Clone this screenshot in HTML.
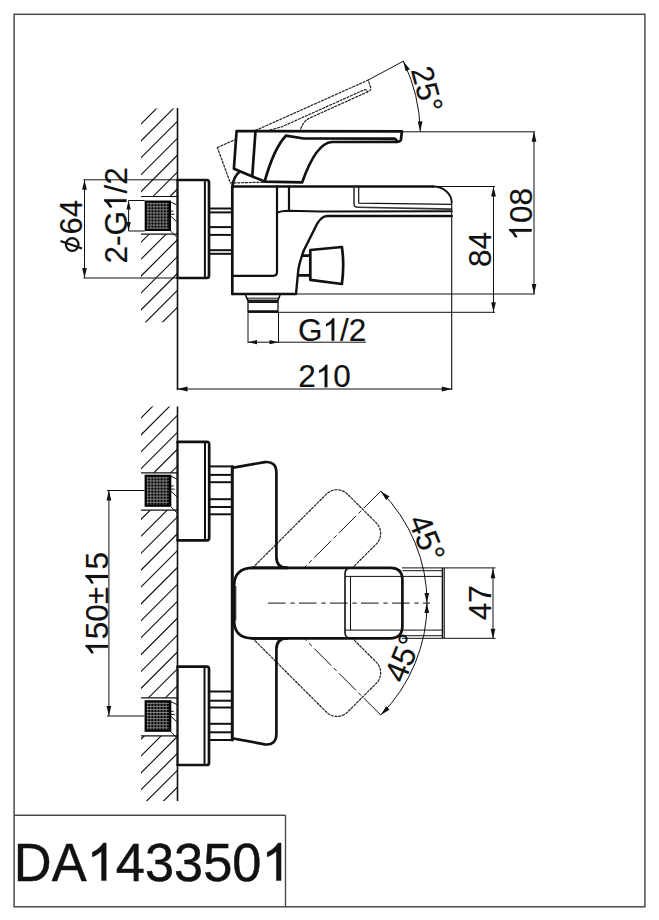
<!DOCTYPE html>
<html><head><meta charset="utf-8"><style>
html,body{margin:0;padding:0;background:#fff;}
svg{display:block;}
text{font-family:"Liberation Sans",sans-serif;}
</style></head><body>
<svg width="659" height="920" viewBox="0 0 659 920">
<rect width="659" height="920" fill="#fff"/>
<rect x="14.1" y="14.3" width="630.8" height="892.5" fill="none" stroke="#4a4a4a" stroke-width="1.5"/>
<line x1="14.00" y1="815.30" x2="285.60" y2="815.30" stroke="#4a4a4a" stroke-width="1.4" stroke-linecap="butt"/>
<line x1="285.50" y1="815.30" x2="285.50" y2="907.00" stroke="#4a4a4a" stroke-width="1.4" stroke-linecap="butt"/>
<g transform="translate(13.87 880.59) rotate(0) scale(1 1.02)"><text x="0" y="0" font-size="52.4" fill="#111" stroke="#111" stroke-width="0.45">DA 43350 </text><path transform="translate(72.792 0) scale(0.02559 -0.02508)" d="M763,0 L583,0 L583,1147 Q518,1085 413,1023 T223,930 L223,1104 Q374,1175 487,1276 T647,1466 L763,1466 Z" fill="#111" stroke="#111" stroke-width="17.59"/><path transform="translate(247.646 0) scale(0.02559 -0.02508)" d="M763,0 L583,0 L583,1147 Q518,1085 413,1023 T223,930 L223,1104 Q374,1175 487,1276 T647,1466 L763,1466 Z" fill="#111" stroke="#111" stroke-width="17.59"/></g>
<clipPath id="h1"><rect x="141" y="108.5" width="36.5" height="213.8"/></clipPath>
<g clip-path="url(#h1)"><path d="M-62.30,327.30 L161.50,103.50 M-45.40,327.30 L178.40,103.50 M-28.50,327.30 L195.30,103.50 M-11.60,327.30 L212.20,103.50 M5.30,327.30 L229.10,103.50 M22.20,327.30 L246.00,103.50 M39.10,327.30 L262.90,103.50 M56.00,327.30 L279.80,103.50 M72.90,327.30 L296.70,103.50 M89.80,327.30 L313.60,103.50 M106.70,327.30 L330.50,103.50 M123.60,327.30 L347.40,103.50 M140.50,327.30 L364.30,103.50 M157.40,327.30 L381.20,103.50 M174.30,327.30 L398.10,103.50" stroke="#111" stroke-width="1.15" fill="none"/>
<rect x="140" y="196.4" width="38.5" height="38.0" fill="#fff"/>
</g>
<line x1="177.50" y1="108.00" x2="177.50" y2="390.00" stroke="#111" stroke-width="1.6" stroke-linecap="butt"/>
<line x1="141.00" y1="196.50" x2="177.50" y2="196.50" stroke="#111" stroke-width="1.2" stroke-linecap="butt"/>
<line x1="141.00" y1="234.20" x2="177.50" y2="234.20" stroke="#111" stroke-width="1.2" stroke-linecap="butt"/>
<rect x="144.7" y="200.5" width="26.30000000000001" height="30.5" fill="#000"/>
<path d="M146.7,203.7 H168.5 M146.7,206.8 H168.5 M146.7,209.8 H168.5 M146.7,212.9 H168.5 M146.7,215.9 H168.5 M146.7,219.0 H168.5 M146.7,222.0 H168.5 M146.7,225.1 H168.5 M146.7,228.1 H168.5 M147.9,202.5 V229.0 M150.9,202.5 V229.0 M154.0,202.5 V229.0 M157.1,202.5 V229.0 M160.1,202.5 V229.0 M163.2,202.5 V229.0 M166.2,202.5 V229.0" stroke="#8a8a8a" stroke-width="0.9" fill="none"/>
<path d="M171,202.1 L176.2,204.7 M171,216.36 L176.2,221.24 M171,214.225 H174 M171,211.175 H173 M171,231.4 L176.2,236.6" stroke="#111" stroke-width="1.0" fill="none" stroke-linejoin="round" stroke-linecap="round" />
<path d="M177.5,180 H206.8 Q209,180 209,182.5 V275.5 Q209,278 206.8,278 H177.5" stroke="#111" stroke-width="2.7" fill="none" stroke-linejoin="round" stroke-linecap="round" />
<line x1="204.90" y1="180.00" x2="204.90" y2="278.00" stroke="#111" stroke-width="2.0" stroke-linecap="butt"/>
<line x1="177.50" y1="180.00" x2="177.50" y2="278.00" stroke="#111" stroke-width="2.0" stroke-linecap="butt"/>
<line x1="209.00" y1="208.50" x2="232.30" y2="208.50" stroke="#111" stroke-width="2.0" stroke-linecap="butt"/>
<line x1="209.00" y1="212.40" x2="232.30" y2="212.40" stroke="#111" stroke-width="2.0" stroke-linecap="butt"/>
<line x1="209.00" y1="227.10" x2="232.30" y2="227.10" stroke="#111" stroke-width="2.0" stroke-linecap="butt"/>
<line x1="209.00" y1="234.90" x2="232.30" y2="234.90" stroke="#111" stroke-width="2.0" stroke-linecap="butt"/>
<line x1="209.00" y1="250.20" x2="232.30" y2="250.20" stroke="#111" stroke-width="2.0" stroke-linecap="butt"/>
<line x1="209.00" y1="253.80" x2="232.30" y2="253.80" stroke="#111" stroke-width="2.0" stroke-linecap="butt"/>
<path d="M232.3,294 V186.5 H433" stroke="#111" stroke-width="2.7" fill="none" stroke-linejoin="round" stroke-linecap="round" />
<path d="M433,186.5 A18.7,16 0 0 1 451.7,202.5" stroke="#111" stroke-width="1.9" fill="none" stroke-linejoin="round" stroke-linecap="round" />
<line x1="451.70" y1="202.50" x2="451.70" y2="390.00" stroke="#111" stroke-width="1.1" stroke-linecap="butt"/>
<path d="M232.3,294 H296 L298.3,270 Q299.5,262 304,250 L314,230 Q320,216 327,216 H451.7" stroke="#111" stroke-width="2.4" fill="none" stroke-linejoin="round" stroke-linecap="round" />
<path d="M277,186.5 V272 Q277,275.8 273,275.8 H232.3" stroke="#111" stroke-width="2.2" fill="none" stroke-linejoin="round" stroke-linecap="round" />
<path d="M289,186.5 V210.7" stroke="#111" stroke-width="2.2" fill="none" stroke-linejoin="round" stroke-linecap="round" />
<path d="M277,213 Q280,210.7 289,210.7 L320,211.4 L451.7,211.3" stroke="#111" stroke-width="2.0" fill="none" stroke-linejoin="round" stroke-linecap="round" />
<path d="M354,186.5 V204 Q354,207.3 358,207.3 L451.7,209.1" stroke="#333" stroke-width="1.6" fill="none" stroke-linejoin="round" stroke-linecap="round" />
<path d="M358.7,186.5 V203.2 L451.7,204.3" stroke="#111" stroke-width="1.2" fill="none" stroke-linejoin="round" stroke-linecap="round" />
<path d="M302.5,255.7 H310.3 M298.3,275.3 H310.3" stroke="#111" stroke-width="2.7" fill="none" stroke-linejoin="round" stroke-linecap="round" />
<path d="M310.3,250 L341.9,247 Q344.5,265 341.9,284 L310.3,279.8 Z" stroke="#111" stroke-width="2.7" fill="#fff" stroke-linejoin="round" stroke-linecap="round" />
<path d="M245,294 L248,300.7 H277.8 L280.4,294" stroke="#111" stroke-width="1.6" fill="none" stroke-linejoin="round" stroke-linecap="round" />
<line x1="246.50" y1="298.20" x2="279.00" y2="298.20" stroke="#111" stroke-width="1.0" stroke-linecap="butt"/>
<line x1="248.00" y1="311.60" x2="278.00" y2="311.60" stroke="#111" stroke-width="2.7" stroke-linecap="butt"/>
<line x1="248.00" y1="300.70" x2="278.00" y2="300.70" stroke="#111" stroke-width="2.2" stroke-linecap="butt"/>
<path d="M248,300.7 V311.6 M278,300.7 V311.6" stroke="#111" stroke-width="1.3" fill="none" stroke-linejoin="round" stroke-linecap="round" />
<line x1="248.00" y1="302.50" x2="278.00" y2="302.50" stroke="#111" stroke-width="1.0" stroke-linecap="butt"/>
<g transform="rotate(-24.24 265.5 184)">
<path d="M236.6,131 L401.9,131.4 L401,139.5 Q400.5,141.9 396.4,141.9 L332,142 Q316,143 302.2,182.3 L264.6,181.6 L233.9,168.7 Z" stroke="#222" stroke-width="1.2" fill="none" stroke-dasharray="2.1,1.7" stroke-linejoin="round" stroke-linecap="round" />
<path d="M264.6,181.6 Q274,148 285.9,135.7 L303.7,138.5 L394.6,138.7 Q397,139.5 396.4,141.9" stroke="#222" stroke-width="1.2" fill="none" stroke-dasharray="2.1,1.7" stroke-linejoin="round" stroke-linecap="round" />
</g>
<path d="M236.6,131 L401.9,131.4 L401,139.5 Q400.5,141.9 396.4,141.9 L332,142 Q316,143 302.2,182.3 L264.6,181.6 L233.9,168.7 Z" stroke="#111" stroke-width="2.7" fill="#fff" stroke-linejoin="round" stroke-linecap="round" />
<path d="M264.6,181.6 Q274,148 285.9,135.7 L303.7,138.5 L394.6,138.7 Q397,139.5 396.4,141.9" stroke="#111" stroke-width="2.7" fill="none" stroke-linejoin="round" stroke-linecap="round" />
<path d="M255.5,131 L252.3,175.5" stroke="#111" stroke-width="2.7" fill="none" stroke-linejoin="round" stroke-linecap="round" />
<path d="M232.3,187 Q233.5,176 240,171.5" stroke="#111" stroke-width="2.7" fill="none" stroke-linejoin="round" stroke-linecap="round" />
<line x1="401.90" y1="131.80" x2="535.00" y2="131.80" stroke="#111" stroke-width="1.0" stroke-linecap="butt"/>
<line x1="433.00" y1="186.50" x2="495.00" y2="186.50" stroke="#111" stroke-width="1.0" stroke-linecap="butt"/>
<line x1="296.00" y1="294.00" x2="535.00" y2="294.00" stroke="#111" stroke-width="1.0" stroke-linecap="butt"/>
<line x1="278.00" y1="312.30" x2="495.00" y2="312.30" stroke="#111" stroke-width="1.0" stroke-linecap="butt"/>
<line x1="367.90" y1="80.20" x2="403.33" y2="61.19" stroke="#111" stroke-width="1.0" stroke-linecap="butt"/>
<path d="M420.27,131.40 A166.4,166.4 0 0 0 403.33,61.19" stroke="#111" stroke-width="1.0" fill="none" stroke-linejoin="round" stroke-linecap="round" />
<path d="M420.27,131.40 L417.72,121.44 L422.47,121.36 Z" fill="#111"/>
<path d="M403.33,61.19 L409.86,69.13 L405.60,71.22 Z" fill="#111"/>
<g transform="translate(410.63 69.64) rotate(75) scale(1 1.02)"><text x="0" y="0" font-size="30.5" fill="#111" stroke="#111" stroke-width="0.15">25°</text></g>
<line x1="534.00" y1="131.80" x2="534.00" y2="294.00" stroke="#111" stroke-width="1.0" stroke-linecap="butt"/>
<path d="M534.00,131.80 L536.38,141.80 L531.62,141.80 Z" fill="#111"/>
<path d="M534.00,294.00 L531.62,284.00 L536.38,284.00 Z" fill="#111"/>
<g transform="translate(531.67 240.61) rotate(-90) scale(1 1.02)"><text x="0" y="0" font-size="31.5" fill="#111" stroke="#111" stroke-width="0.15"> 08</text><path transform="translate(0.000 0) scale(0.01538 -0.01508)" d="M763,0 L583,0 L583,1147 Q518,1085 413,1023 T223,930 L223,1104 Q374,1175 487,1276 T647,1466 L763,1466 Z" fill="#111" stroke="#111" stroke-width="9.75"/></g>
<line x1="493.50" y1="186.50" x2="493.50" y2="312.30" stroke="#111" stroke-width="1.0" stroke-linecap="butt"/>
<path d="M493.50,186.50 L495.88,196.50 L491.12,196.50 Z" fill="#111"/>
<path d="M493.50,312.30 L491.12,302.30 L495.88,302.30 Z" fill="#111"/>
<g transform="translate(491.41 266.99) rotate(-90) scale(1 1.02)"><text x="0" y="0" font-size="31.5" fill="#111" stroke="#111" stroke-width="0.15">84</text></g>
<line x1="248.00" y1="312.00" x2="248.00" y2="343.00" stroke="#111" stroke-width="1.0" stroke-linecap="butt"/>
<line x1="278.50" y1="312.00" x2="278.50" y2="343.00" stroke="#111" stroke-width="1.0" stroke-linecap="butt"/>
<line x1="248.00" y1="342.20" x2="366.00" y2="342.20" stroke="#111" stroke-width="1.0" stroke-linecap="butt"/>
<path d="M248.00,342.20 L257.00,340.04 L257.00,344.36 Z" fill="#111"/>
<path d="M278.50,342.20 L269.50,344.36 L269.50,340.04 Z" fill="#111"/>
<g transform="translate(298.10 340.78) rotate(0) scale(1 1.02)"><text x="0" y="0" font-size="31.5" fill="#111" stroke="#111" stroke-width="0.15">G /2</text><path transform="translate(24.502 0) scale(0.01538 -0.01508)" d="M763,0 L583,0 L583,1147 Q518,1085 413,1023 T223,930 L223,1104 Q374,1175 487,1276 T647,1466 L763,1466 Z" fill="#111" stroke="#111" stroke-width="9.75"/></g>
<line x1="177.50" y1="389.00" x2="452.00" y2="389.00" stroke="#111" stroke-width="1.0" stroke-linecap="butt"/>
<path d="M177.50,389.00 L187.50,386.62 L187.50,391.38 Z" fill="#111"/>
<path d="M451.80,389.00 L441.80,391.38 L441.80,386.62 Z" fill="#111"/>
<g transform="translate(298.14 387.32) rotate(0) scale(1 1.02)"><text x="0" y="0" font-size="31.5" fill="#111" stroke="#111" stroke-width="0.15">2 0</text><path transform="translate(17.519 0) scale(0.01538 -0.01508)" d="M763,0 L583,0 L583,1147 Q518,1085 413,1023 T223,930 L223,1104 Q374,1175 487,1276 T647,1466 L763,1466 Z" fill="#111" stroke="#111" stroke-width="9.75"/></g>
<line x1="83.50" y1="179.80" x2="177.50" y2="179.80" stroke="#111" stroke-width="1.0" stroke-linecap="butt"/>
<line x1="83.50" y1="278.00" x2="177.50" y2="278.00" stroke="#111" stroke-width="1.0" stroke-linecap="butt"/>
<line x1="84.50" y1="179.80" x2="84.50" y2="278.00" stroke="#111" stroke-width="1.0" stroke-linecap="butt"/>
<path d="M84.50,179.80 L86.88,189.80 L82.12,189.80 Z" fill="#111"/>
<path d="M84.50,278.00 L82.12,268.00 L86.88,268.00 Z" fill="#111"/>
<g transform="translate(82.33 234.42) rotate(-90) scale(1 1.02)"><text x="0" y="0" font-size="31" fill="#111" stroke="#111" stroke-width="0.15">64</text></g>
<circle cx="72.2" cy="244.5" r="6.3" fill="none" stroke="#111" stroke-width="2.2"/>
<line x1="60.50" y1="241.00" x2="82.00" y2="248.50" stroke="#111" stroke-width="2.2" stroke-linecap="butt"/>
<line x1="128.60" y1="200.50" x2="144.70" y2="200.50" stroke="#111" stroke-width="1.0" stroke-linecap="butt"/>
<line x1="128.60" y1="231.00" x2="144.70" y2="231.00" stroke="#111" stroke-width="1.0" stroke-linecap="butt"/>
<line x1="128.60" y1="200.50" x2="128.60" y2="231.00" stroke="#111" stroke-width="1.0" stroke-linecap="butt"/>
<path d="M128.60,200.50 L130.76,209.50 L126.44,209.50 Z" fill="#111"/>
<path d="M128.60,231.00 L126.44,222.00 L130.76,222.00 Z" fill="#111"/>
<g transform="translate(126.53 263.40) rotate(-90) scale(1 1.02)"><text x="0" y="0" font-size="31.5" fill="#111" stroke="#111" stroke-width="0.15">2-G /2</text><path transform="translate(52.510 0) scale(0.01538 -0.01508)" d="M763,0 L583,0 L583,1147 Q518,1085 413,1023 T223,930 L223,1104 Q374,1175 487,1276 T647,1466 L763,1466 Z" fill="#111" stroke="#111" stroke-width="9.75"/></g>
<clipPath id="h2"><rect x="141" y="406.5" width="36.5" height="394.5"/></clipPath>
<g clip-path="url(#h2)"><path d="M-247.00,806.00 L157.50,401.50 M-230.10,806.00 L174.40,401.50 M-213.20,806.00 L191.30,401.50 M-196.30,806.00 L208.20,401.50 M-179.40,806.00 L225.10,401.50 M-162.50,806.00 L242.00,401.50 M-145.60,806.00 L258.90,401.50 M-128.70,806.00 L275.80,401.50 M-111.80,806.00 L292.70,401.50 M-94.90,806.00 L309.60,401.50 M-78.00,806.00 L326.50,401.50 M-61.10,806.00 L343.40,401.50 M-44.20,806.00 L360.30,401.50 M-27.30,806.00 L377.20,401.50 M-10.40,806.00 L394.10,401.50 M6.50,806.00 L411.00,401.50 M23.40,806.00 L427.90,401.50 M40.30,806.00 L444.80,401.50 M57.20,806.00 L461.70,401.50 M74.10,806.00 L478.60,401.50 M91.00,806.00 L495.50,401.50 M107.90,806.00 L512.40,401.50 M124.80,806.00 L529.30,401.50 M141.70,806.00 L546.20,401.50 M158.60,806.00 L563.10,401.50 M175.50,806.00 L580.00,401.50" stroke="#111" stroke-width="1.15" fill="none"/>
<rect x="140" y="472.9" width="38.5" height="37.30000000000001" fill="#fff"/>
<rect x="140" y="697.8" width="38.5" height="38.10000000000002" fill="#fff"/>
</g>
<line x1="177.50" y1="406.50" x2="177.50" y2="801.00" stroke="#111" stroke-width="1.6" stroke-linecap="butt"/>
<line x1="141.00" y1="472.90" x2="177.50" y2="472.90" stroke="#111" stroke-width="1.2" stroke-linecap="butt"/>
<line x1="141.00" y1="510.20" x2="177.50" y2="510.20" stroke="#111" stroke-width="1.2" stroke-linecap="butt"/>
<line x1="141.00" y1="697.80" x2="177.50" y2="697.80" stroke="#111" stroke-width="1.2" stroke-linecap="butt"/>
<line x1="141.00" y1="735.90" x2="177.50" y2="735.90" stroke="#111" stroke-width="1.2" stroke-linecap="butt"/>
<rect x="144.6" y="474.7" width="26.700000000000017" height="32.10000000000002" fill="#000"/>
<path d="M146.6,477.9 H168.8 M146.6,480.9 H168.8 M146.6,484.0 H168.8 M146.6,487.1 H168.8 M146.6,490.1 H168.8 M146.6,493.2 H168.8 M146.6,496.2 H168.8 M146.6,499.3 H168.8 M146.6,502.3 H168.8 M147.8,476.7 V504.8 M150.8,476.7 V504.8 M153.9,476.7 V504.8 M157.0,476.7 V504.8 M160.0,476.7 V504.8 M163.1,476.7 V504.8 M166.1,476.7 V504.8" stroke="#8a8a8a" stroke-width="0.9" fill="none"/>
<path d="M171.3,476.3 L176.5,478.9 M171.3,491.392 L176.5,496.528 M171.3,489.145 H174.3 M171.3,485.935 H173.3 M171.3,507.2 L176.5,512.4" stroke="#111" stroke-width="1.0" fill="none" stroke-linejoin="round" stroke-linecap="round" />
<rect x="144.6" y="700.2" width="26.700000000000017" height="31.59999999999991" fill="#000"/>
<path d="M146.6,703.4 H168.8 M146.6,706.5 H168.8 M146.6,709.5 H168.8 M146.6,712.5 H168.8 M146.6,715.6 H168.8 M146.6,718.6 H168.8 M146.6,721.7 H168.8 M146.6,724.7 H168.8 M146.6,727.8 H168.8 M147.8,702.2 V729.8 M150.8,702.2 V729.8 M153.9,702.2 V729.8 M157.0,702.2 V729.8 M160.0,702.2 V729.8 M163.1,702.2 V729.8 M166.1,702.2 V729.8" stroke="#8a8a8a" stroke-width="0.9" fill="none"/>
<path d="M171.3,701.8000000000001 L176.5,704.4000000000001 M171.3,716.632 L176.5,721.688 M171.3,714.42 H174.3 M171.3,711.26 H173.3 M171.3,732.1999999999999 L176.5,737.4" stroke="#111" stroke-width="1.0" fill="none" stroke-linejoin="round" stroke-linecap="round" />
<path d="M177.5,441.9 H207 Q209.2,441.9 209.2,444.5 V537.7 Q209.2,540.3 207,540.3 H177.5" stroke="#111" stroke-width="2.7" fill="none" stroke-linejoin="round" stroke-linecap="round" />
<line x1="205.00" y1="441.90" x2="205.00" y2="540.30" stroke="#111" stroke-width="2.0" stroke-linecap="butt"/>
<line x1="177.50" y1="441.90" x2="177.50" y2="540.30" stroke="#111" stroke-width="2.0" stroke-linecap="butt"/>
<path d="M177.5,666.7 H207 Q209,666.7 209,669.3 V762.4 Q209,765 207,765 H177.5" stroke="#111" stroke-width="2.7" fill="none" stroke-linejoin="round" stroke-linecap="round" />
<line x1="204.50" y1="666.70" x2="204.50" y2="765.00" stroke="#111" stroke-width="2.0" stroke-linecap="butt"/>
<line x1="177.50" y1="666.70" x2="177.50" y2="765.00" stroke="#111" stroke-width="2.0" stroke-linecap="butt"/>
<line x1="209.20" y1="466.40" x2="232.20" y2="466.40" stroke="#111" stroke-width="2.0" stroke-linecap="butt"/>
<line x1="209.20" y1="474.90" x2="232.20" y2="474.90" stroke="#111" stroke-width="2.0" stroke-linecap="butt"/>
<line x1="209.20" y1="482.20" x2="232.20" y2="482.20" stroke="#111" stroke-width="2.0" stroke-linecap="butt"/>
<line x1="209.20" y1="499.20" x2="232.20" y2="499.20" stroke="#111" stroke-width="2.0" stroke-linecap="butt"/>
<line x1="209.20" y1="507.00" x2="232.20" y2="507.00" stroke="#111" stroke-width="2.0" stroke-linecap="butt"/>
<line x1="209.20" y1="514.30" x2="232.20" y2="514.30" stroke="#111" stroke-width="2.0" stroke-linecap="butt"/>
<line x1="209.00" y1="691.50" x2="232.20" y2="691.50" stroke="#111" stroke-width="2.0" stroke-linecap="butt"/>
<line x1="209.00" y1="700.70" x2="232.20" y2="700.70" stroke="#111" stroke-width="2.0" stroke-linecap="butt"/>
<line x1="209.00" y1="707.50" x2="232.20" y2="707.50" stroke="#111" stroke-width="2.0" stroke-linecap="butt"/>
<line x1="209.00" y1="723.80" x2="232.20" y2="723.80" stroke="#111" stroke-width="2.0" stroke-linecap="butt"/>
<line x1="209.00" y1="732.30" x2="232.20" y2="732.30" stroke="#111" stroke-width="2.0" stroke-linecap="butt"/>
<line x1="209.00" y1="740.00" x2="232.20" y2="740.00" stroke="#111" stroke-width="2.0" stroke-linecap="butt"/>
<path d="M252.60,567.90 L326.34,494.16 A15,15 0 0 1 347.56,494.16 L376.24,522.84 A15,15 0 0 1 376.24,544.06 L352.40,567.90" stroke="#222" stroke-width="1.2" fill="none" stroke-dasharray="2.1,1.7" stroke-linejoin="round" stroke-linecap="round" />
<path d="M252.60,638.30 L326.34,712.04 A15,15 0 0 0 347.56,712.04 L376.24,683.36 A15,15 0 0 0 376.24,662.14 L352.40,638.30" stroke="#222" stroke-width="1.2" fill="none" stroke-dasharray="2.1,1.7" stroke-linejoin="round" stroke-linecap="round" />
<path d="M232.3,466.4 V740" stroke="#111" stroke-width="3.0" fill="none" stroke-linejoin="round" stroke-linecap="round" />
<path d="M233.3,467.6 L264.9,462.1 Q276.4,461 276.4,473 V557 Q276.4,567.9 287,567.9" stroke="#111" stroke-width="2.7" fill="none" stroke-linejoin="round" stroke-linecap="round" />
<path d="M233.3,738.5 L264.9,744.4 Q276.4,745.5 276.4,733.5 V649.4 Q276.4,638.3 287,638.3" stroke="#111" stroke-width="2.7" fill="none" stroke-linejoin="round" stroke-linecap="round" />
<path d="M287,567.9 H253 Q234.1,567.9 234.1,586 V620.5 Q234.1,638.3 253,638.3 H287" stroke="#111" stroke-width="2.7" fill="none" stroke-linejoin="round" stroke-linecap="round" />
<line x1="235.80" y1="586.00" x2="235.80" y2="620.50" stroke="#111" stroke-width="1.0" stroke-linecap="butt"/>
<path d="M252,567.9 H390.4 Q402.4,567.9 402.4,580 V626 Q402.4,638.3 390,638.3 H252" stroke="#111" stroke-width="2.7" fill="none" stroke-linejoin="round" stroke-linecap="round" />
<path d="M351,567.9 Q345,567.9 345,574 V632.5 Q345,638.3 351,638.3" stroke="#111" stroke-width="1.6" fill="none" stroke-linejoin="round" stroke-linecap="round" />
<line x1="350.50" y1="576.00" x2="350.50" y2="630.40" stroke="#111" stroke-width="1.0" stroke-linecap="butt"/>
<line x1="345.00" y1="576.40" x2="443.00" y2="576.40" stroke="#111" stroke-width="1.0" stroke-linecap="butt"/>
<line x1="345.00" y1="630.10" x2="443.00" y2="630.10" stroke="#111" stroke-width="1.0" stroke-linecap="butt"/>
<line x1="402.40" y1="570.70" x2="443.00" y2="570.70" stroke="#111" stroke-width="1.0" stroke-linecap="butt"/>
<line x1="398.00" y1="635.70" x2="443.00" y2="635.70" stroke="#111" stroke-width="1.0" stroke-linecap="butt"/>
<line x1="442.50" y1="567.90" x2="442.50" y2="638.30" stroke="#111" stroke-width="1.6" stroke-linecap="butt"/>
<line x1="444.30" y1="567.90" x2="444.30" y2="638.30" stroke="#111" stroke-width="1.0" stroke-linecap="butt"/>
<line x1="402.00" y1="567.90" x2="495.50" y2="567.90" stroke="#111" stroke-width="1.0" stroke-linecap="butt"/>
<line x1="402.00" y1="638.30" x2="495.50" y2="638.30" stroke="#111" stroke-width="1.0" stroke-linecap="butt"/>
<line x1="268.00" y1="603.10" x2="430.00" y2="603.10" stroke="#111" stroke-width="1.0" stroke-dasharray="17.6,4.8,4.3,4.3" stroke-linecap="butt"/>
<line x1="380.74" y1="491.16" x2="304.90" y2="567.00" stroke="#111" stroke-width="1.0" stroke-dasharray="24,3.5,4,3.5" stroke-linecap="butt"/>
<path d="M380.74,491.16 A158.3,158.3 0 0 1 427.10,603.1" stroke="#111" stroke-width="1.0" fill="none" stroke-linejoin="round" stroke-linecap="round" />
<path d="M380.74,491.16 L389.49,496.56 L386.13,499.92 Z" fill="#111"/>
<path d="M426.80,603.10 L429.18,613.10 L424.42,613.10 Z" fill="#111"/>
<line x1="380.74" y1="715.04" x2="304.90" y2="639.20" stroke="#111" stroke-width="1.0" stroke-dasharray="24,3.5,4,3.5" stroke-linecap="butt"/>
<path d="M380.74,715.04 A158.3,158.3 0 0 0 427.10,603.1" stroke="#111" stroke-width="1.0" fill="none" stroke-linejoin="round" stroke-linecap="round" />
<path d="M380.74,715.04 L386.13,706.28 L389.49,709.64 Z" fill="#111"/>
<path d="M426.80,603.10 L424.42,593.10 L429.18,593.10 Z" fill="#111"/>
<g transform="translate(407.64 520.30) rotate(68) scale(1 1.02)"><text x="0" y="0" font-size="31.5" fill="#111" stroke="#111" stroke-width="0.15">45°</text></g>
<g transform="translate(404.15 684.18) rotate(-68) scale(1 1.02)"><text x="0" y="0" font-size="31.5" fill="#111" stroke="#111" stroke-width="0.15">45°</text></g>
<line x1="493.00" y1="568.20" x2="493.00" y2="638.80" stroke="#111" stroke-width="1.0" stroke-linecap="butt"/>
<path d="M493.00,568.20 L495.38,578.20 L490.62,578.20 Z" fill="#111"/>
<path d="M493.00,638.80 L490.62,628.80 L495.38,628.80 Z" fill="#111"/>
<g transform="translate(490.85 620.14) rotate(-90) scale(1 1.02)"><text x="0" y="0" font-size="31.5" fill="#111" stroke="#111" stroke-width="0.15">47</text></g>
<line x1="107.00" y1="490.50" x2="144.60" y2="490.50" stroke="#111" stroke-width="1.0" stroke-linecap="butt"/>
<line x1="107.00" y1="716.00" x2="144.60" y2="716.00" stroke="#111" stroke-width="1.0" stroke-linecap="butt"/>
<line x1="108.90" y1="490.50" x2="108.90" y2="716.00" stroke="#111" stroke-width="1.0" stroke-linecap="butt"/>
<path d="M108.90,490.50 L111.28,500.50 L106.52,500.50 Z" fill="#111"/>
<path d="M108.90,716.00 L106.52,706.00 L111.28,706.00 Z" fill="#111"/>
<g transform="translate(108.02 656.69) rotate(-90) scale(1 1.02)"><text x="0" y="0" font-size="31.5" fill="#111" stroke="#111" stroke-width="0.15"> 50± 5</text><path transform="translate(0.000 0) scale(0.01538 -0.01508)" d="M763,0 L583,0 L583,1147 Q518,1085 413,1023 T223,930 L223,1104 Q374,1175 487,1276 T647,1466 L763,1466 Z" fill="#111" stroke="#111" stroke-width="9.75"/><path transform="translate(69.844 0) scale(0.01538 -0.01508)" d="M763,0 L583,0 L583,1147 Q518,1085 413,1023 T223,930 L223,1104 Q374,1175 487,1276 T647,1466 L763,1466 Z" fill="#111" stroke="#111" stroke-width="9.75"/></g>
</svg></body></html>
